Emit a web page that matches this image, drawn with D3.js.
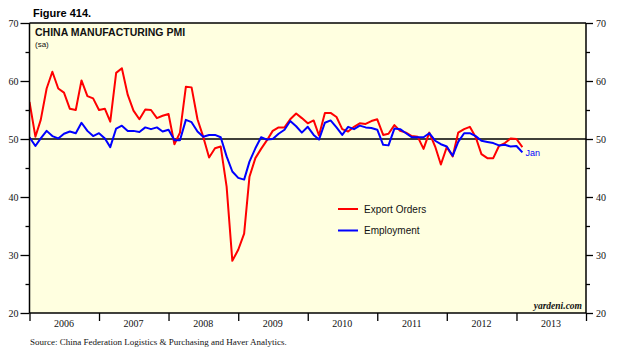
<!DOCTYPE html>
<html>
<head>
<meta charset="utf-8">
<script src="https://cdn.jsdelivr.net/npm/d3@7/dist/d3.min.js"></script>
<style>
  html, body { margin: 0; padding: 0; background: #fff; }
  svg { display: block; }
</style>
</head>
<body>
<svg id="chart" width="626" height="359"></svg>
<script>
// ---- Data (monthly, Dec 2005 .. Jan 2013, plotted at month end) ----
const startYear = 2005, startMonth = 11; // December 2005 (0-based month)
const exportOrders = [
  56.4, 50.4, 53.3, 58.7, 61.6, 58.7, 58.0, 55.2, 55.0, 60.1, 57.4, 57.0,
  55.0, 55.2, 53.0, 61.4, 62.2, 57.6, 54.9, 53.4, 55.1, 55.0, 53.6, 54.0,
  54.3, 49.1, 51.1, 59.0, 58.9, 53.4, 50.4, 46.8, 48.4, 48.7, 41.8, 29.0,
  30.9, 33.7, 43.5, 46.7, 48.3, 49.8, 51.4, 52.0, 52.0, 53.4, 54.4, 53.6,
  52.7, 53.2, 50.6, 54.5, 54.5, 53.8, 51.7, 51.3, 52.1, 52.7, 52.6, 53.1,
  53.4, 50.7, 50.9, 52.4, 51.4, 51.1, 50.5, 50.4, 48.3, 51.1, 48.7, 45.6,
  48.6, 47.0, 51.1, 51.7, 52.1, 50.3, 47.4, 46.7, 46.7, 48.8, 49.3, 50.1,
  50.0, 48.6
];
const employment = [
  50.3, 48.8, 50.1, 51.4, 50.5, 50.1, 50.9, 51.3, 51.0, 52.8, 51.4, 50.5,
  51.0, 50.1, 48.6, 51.8, 52.3, 51.4, 51.4, 51.2, 52.0, 51.7, 52.0, 51.3,
  51.6, 49.8, 49.8, 53.3, 52.9, 51.3, 50.4, 50.7, 50.7, 50.3, 47.0, 44.4,
  43.3, 43.0, 46.1, 48.4, 50.3, 49.9, 50.0, 50.9, 51.6, 53.1, 52.2, 51.1,
  52.1, 50.7, 49.9, 52.8, 53.2, 52.0, 50.7, 52.1, 51.7, 52.3, 52.0, 51.9,
  51.6, 49.0, 48.9, 51.8, 51.7, 51.0, 50.3, 50.3, 50.3, 51.0, 49.7, 49.1,
  48.7, 47.1, 49.5, 51.0, 51.0, 50.5, 49.7, 49.5, 49.3, 48.9, 49.0, 48.7,
  48.8, 47.7
];
const years = [2006, 2007, 2008, 2009, 2010, 2011, 2012, 2013];
const yMajorTicks = [20, 30, 40, 50, 60, 70];
const yMinorTicks = [25, 35, 45, 55, 65];
const seriesNames = ["Export Orders", "Employment"];
const seriesColors = ["#ff0000", "#0000ff"];

// ---- Layout ----
const svg = d3.select("#chart");
const L = 29.5, R = 586, T = 23, B = 313;
const serif = "'Liberation Serif', 'Times New Roman', serif";
const sans = "'Liberation Sans', Arial, Helvetica, sans-serif";

const x = d3.scaleTime()
  .domain([new Date(years[0], 0, 1), new Date(years[years.length - 1] + 1, 0, 1)])
  .range([L, R]);
const y = d3.scaleLinear().domain([20, 70]).range([B, T]);

// month-end date for index i (value for month m plotted at first day of next month)
const dateAt = i => new Date(startYear, startMonth + i + 1, 1);

// background
svg.append("rect").attr("x", L).attr("y", T).attr("width", R - L).attr("height", B - T)
  .attr("fill", "#ffffe0");

// clip
svg.append("clipPath").attr("id", "clip").append("rect")
  .attr("x", L).attr("y", T - 2).attr("width", R - L).attr("height", B - T + 4);

// 50 reference line
svg.append("line").attr("x1", L).attr("x2", R).attr("y1", y(50)).attr("y2", y(50))
  .attr("stroke", "#000").attr("stroke-width", 1.5);

// lines
const line = d3.line().x((d, i) => x(dateAt(i))).y(d => y(d));
[exportOrders, employment].forEach((s, k) => {
  svg.append("path").datum(s).attr("d", line)
    .attr("fill", "none").attr("stroke", seriesColors[k]).attr("stroke-width", 2)
    .attr("stroke-linejoin", "round").attr("clip-path", "url(#clip)");
});

// axes
function styleAxis(g) {
  g.selectAll("text").attr("font-family", serif).attr("font-size", "10px").attr("fill", "#111");
  g.selectAll("line, path").attr("stroke", "#000").attr("stroke-width", 1.3);
}
const leftMajor = svg.append("g").attr("transform", `translate(${L},0)`)
  .call(d3.axisLeft(y).tickValues(yMajorTicks).tickSize(9).tickPadding(2).tickFormat(d3.format("d")));
leftMajor.select(".domain").remove();
styleAxis(leftMajor);
const leftMinor = svg.append("g").attr("transform", `translate(${L},0)`)
  .call(d3.axisLeft(y).tickValues(yMinorTicks).tickSize(4).tickFormat(""));
leftMinor.select(".domain").remove();
styleAxis(leftMinor);

const rightMajor = svg.append("g").attr("transform", `translate(${R},0)`)
  .call(d3.axisRight(y).tickValues(yMajorTicks).tickSize(7).tickPadding(3).tickFormat(d3.format("d")));
rightMajor.select(".domain").remove();
styleAxis(rightMajor);
const rightMinor = svg.append("g").attr("transform", `translate(${R},0)`)
  .call(d3.axisRight(y).tickValues(yMinorTicks).tickSize(4).tickFormat(""));
rightMinor.select(".domain").remove();
styleAxis(rightMinor);

const yearBounds = years.map(yr => new Date(yr, 0, 1)).concat([new Date(years[years.length - 1] + 1, 0, 1)]);
const bottom = svg.append("g").attr("transform", `translate(0,${B})`)
  .call(d3.axisBottom(x).tickValues(yearBounds).tickSize(8).tickFormat(""));
bottom.select(".domain").remove();
styleAxis(bottom);

// year labels, centered in each year
svg.append("g").selectAll("text").data(years).join("text")
  .attr("x", yr => x(new Date(yr, 6, 1)))
  .attr("y", 327)
  .attr("text-anchor", "middle")
  .attr("font-family", serif).attr("font-size", "10px").attr("fill", "#111")
  .text(d => d);

// frame lines
const frame = svg.append("g").attr("stroke", "#000").attr("stroke-width", 1.5);
frame.append("line").attr("x1", L).attr("x2", R).attr("y1", T).attr("y2", T);
frame.append("line").attr("x1", L).attr("x2", R).attr("y1", B).attr("y2", B);
frame.append("line").attr("x1", L).attr("x2", L).attr("y1", T).attr("y2", B);
frame.append("line").attr("x1", R).attr("x2", R).attr("y1", T).attr("y2", B);

// titles
svg.append("text").attr("x", 33).attr("y", 17)
  .attr("font-family", sans).attr("font-weight", "bold").attr("font-size", "11px")
  .text("Figure 414.");
svg.append("text").attr("x", 35).attr("y", 36)
  .attr("font-family", sans).attr("font-weight", "bold").attr("font-size", "10.5px").attr("fill", "#111")
  .text("CHINA MANUFACTURING PMI");
svg.append("text").attr("x", 35).attr("y", 47)
  .attr("font-family", sans).attr("font-size", "8px").attr("fill", "#111")
  .text("(sa)");

// legend
const legend = svg.append("g");
seriesNames.forEach((name, k) => {
  const ly = 209 + k * 21.5;
  legend.append("line").attr("x1", 338).attr("x2", 358).attr("y1", ly).attr("y2", ly)
    .attr("stroke", seriesColors[k]).attr("stroke-width", 2);
  legend.append("text").attr("x", 364).attr("y", ly + 3.5)
    .attr("font-family", sans).attr("font-size", "10px").attr("fill", "#111")
    .text(name);
});

// end label
svg.append("text")
  .attr("x", x(dateAt(employment.length - 1)) + 3)
  .attr("y", y(employment[employment.length - 1]) + 3.5)
  .attr("font-family", sans).attr("font-size", "9px").attr("fill", "#0000ff")
  .text("Jan");

// watermark
svg.append("text").attr("x", 582).attr("y", 309).attr("text-anchor", "end")
  .attr("font-family", serif).attr("font-weight", "bold").attr("font-style", "italic")
  .attr("font-size", "9.5px").attr("fill", "#111")
  .text("yardeni.com");

// source
svg.append("text").attr("x", 30).attr("y", 345)
  .attr("font-family", serif).attr("font-size", "9px").attr("fill", "#111")
  .text("Source: China Federation Logistics & Purchasing and Haver Analytics.");
</script>
</body>
</html>
